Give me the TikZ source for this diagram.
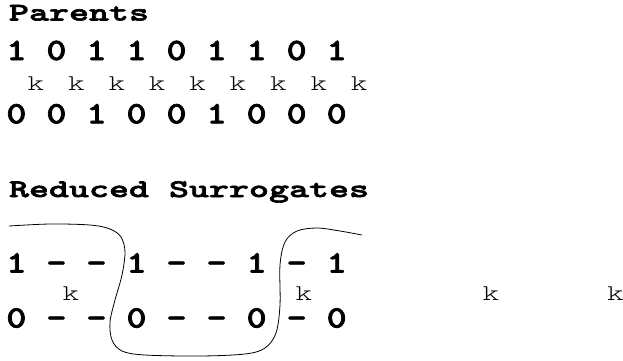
\documentclass[tikz,border=0pt]{standalone}
\usepackage{fontspec}
\newfontfamily\digfont[FakeStretch=1.23, FakeBold=2.5]{lmmonolt10-bold.otf}
\newfontfamily\headfont[FakeStretch=1.5, FakeBold=2.5]{lmmonolt10-bold.otf}
\newfontfamily\kfont[FakeStretch=1.4]{lmmonolt10-regular.otf}
\tikzset{
  digits/.style={inner sep=0pt, outer sep=0pt, anchor=base west,
    font=\digfont\fontsize{31}{32}\selectfont},
  heading/.style={inner sep=0pt, outer sep=0pt, anchor=base west,
    font=\headfont\fontsize{25.4}{27}\selectfont},
  kmark/.style={inner sep=0pt, outer sep=0pt, anchor=base,
    font=\kfont\fontsize{22.5}{23}\selectfont},
  group/.style={line width=0.8pt, black},
}
\begin{document}
\begin{tikzpicture}[x=1pt, y=-1pt]
\useasboundingbox (0,0) rectangle (623,360);
% Parents
\node[heading] (ptitle) at (9,20.5) {Parents};
\node[digits] (prow1) at (6.4,60) {1 0 1 1 0 1 1 0 1};
\foreach \i in {0,...,8} {
  \node[kmark] (pk\i) at ({36+40.4*\i},90) {k};
}
\node[digits] (prow2) at (6.4,123.3) {0 0 1 0 0 1 0 0 0};
% Reduced surrogates
\node[heading] (rtitle) at (9,197) {Reduced Surrogates};
\node[digits] (rrow1) at (6.4,272.5) {1 - - 1 - - 1 - 1};
\node[digits] (rrow2) at (6.4,327.5) {0 - - 0 - - 0 - 0};
\node[kmark] (rk1) at (71,300) {k};
\node[kmark] (rk2) at (304,300) {k};
\node[kmark] (rk3) at (491,300) {k};
\node[kmark] (rk4) at (615.5,300) {k};
% grouping curve
\draw[group] plot[smooth, tension=0.55] coordinates {
  (9,226) (50,224) (90,225) (110,229) (121,237) (125,252) (122,275)
  (115,300) (110,322) (112,340) (122,351) (145,355) (200,356) (245,354)
  (265,348) (276,333) (280,305) (280,265) (285,242) (297,231) (317,228)
  (340,231) (362,235)};
\end{tikzpicture}
\end{document}
